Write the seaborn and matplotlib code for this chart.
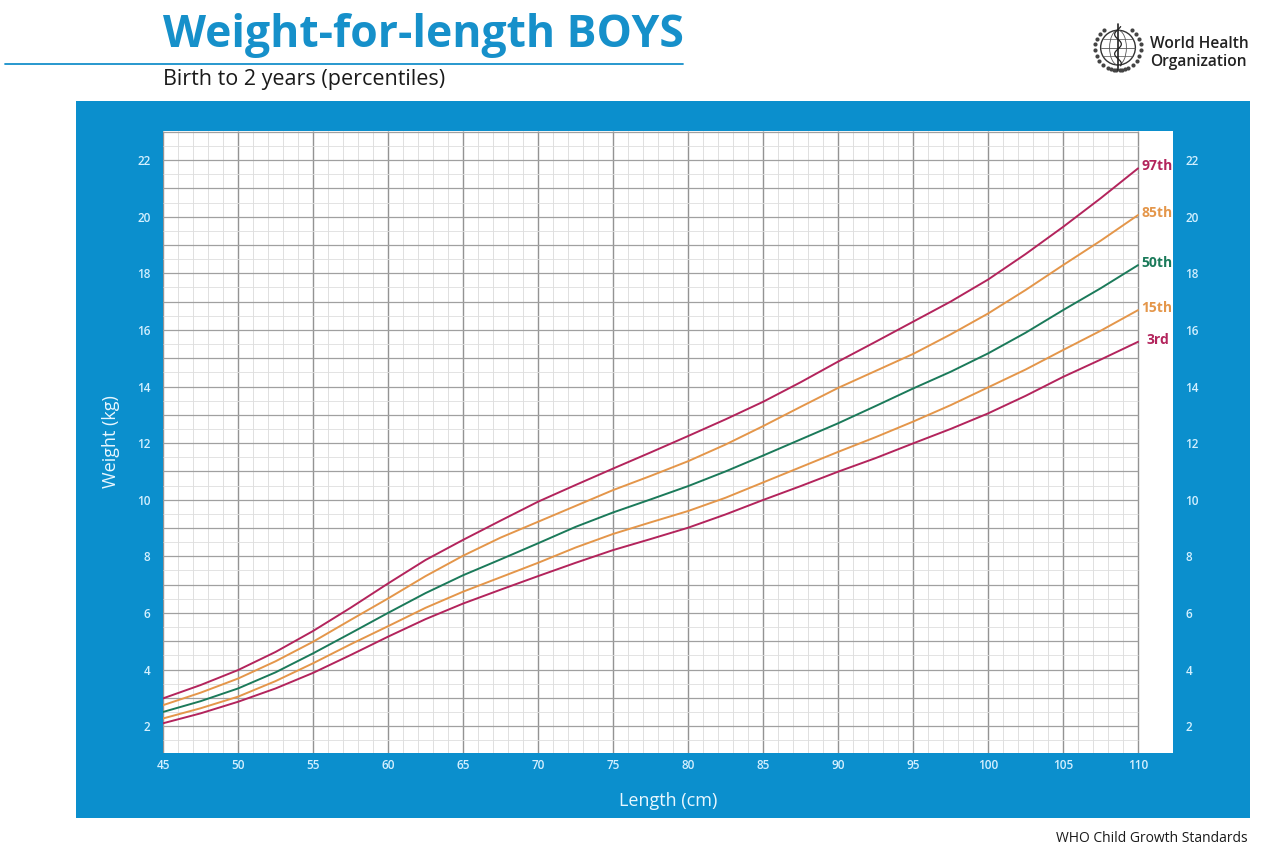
import numpy as np
import pandas as pd
import matplotlib
matplotlib.use("Agg")
import matplotlib.pyplot as plt
from matplotlib.patches import Rectangle, Circle, Ellipse
import seaborn as sns

# values
length = [45, 47.5, 50, 52.5, 55, 57.5, 60, 62.5, 65, 67.5, 70, 72.5, 75, 77.5,
          80, 82.5, 85, 87.5, 90, 92.5, 95, 97.5, 100, 102.5, 105, 107.5, 110]
p97 = [2.98, 3.45, 3.98, 4.62, 5.36, 6.18, 7.04, 7.87, 8.58, 9.26, 9.93, 10.52, 11.10, 11.67,
       12.25, 12.84, 13.46, 14.15, 14.88, 15.58, 16.29, 17.00, 17.78, 18.68, 19.64, 20.65, 21.71]
p85 = [2.74, 3.18, 3.68, 4.29, 4.98, 5.75, 6.51, 7.30, 8.02, 8.66, 9.22, 9.78, 10.34, 10.84,
       11.36, 11.95, 12.60, 13.28, 13.95, 14.55, 15.15, 15.84, 16.58, 17.41, 18.29, 19.15, 20.06]
p50 = [2.50, 2.88, 3.33, 3.90, 4.57, 5.28, 6.00, 6.70, 7.33, 7.89, 8.46, 9.04, 9.55, 10.01,
       10.48, 11.00, 11.56, 12.13, 12.70, 13.31, 13.93, 14.52, 15.17, 15.90, 16.70, 17.47, 18.29]
p15 = [2.27, 2.63, 3.04, 3.59, 4.22, 4.89, 5.53, 6.18, 6.75, 7.26, 7.77, 8.31, 8.79, 9.20,
       9.60, 10.07, 10.61, 11.15, 11.69, 12.21, 12.76, 13.34, 13.97, 14.60, 15.29, 15.97, 16.70]
p3 = [2.10, 2.45, 2.86, 3.33, 3.88, 4.51, 5.16, 5.78, 6.33, 6.82, 7.30, 7.77, 8.22, 8.61,
      9.01, 9.48, 9.99, 10.48, 10.99, 11.47, 11.99, 12.50, 13.05, 13.67, 14.34, 14.95, 15.58]

curve_names = ["97th", "85th", "50th", "15th", "3rd"]
x_ticks = list(range(45, 111, 5))
y_ticks = list(range(2, 23, 2))

RED = "#b3245c"
ORANGE = "#e4964a"
GREEN = "#1b7a5a"
BLUE = "#0b8fcd"
TICKCOL = "#d4f0ff"

colors = {"97th": RED, "85th": ORANGE, "50th": GREEN, "15th": ORANGE, "3rd": RED}

df = pd.DataFrame({"length": length * 5,
                   "weight": p97 + p85 + p50 + p15 + p3,
                   "pct": sum([[n] * len(length) for n in curve_names], [])})

sns.set_style("white")
plt.rcParams["font.family"] = ["Open Sans", "DejaVu Sans"]

fig = plt.figure(figsize=(12.61, 8.5), dpi=100)
W, H = 1261, 850

# blue panel behind the chart
fig.patches.append(Rectangle((76 / W, 1 - 818 / H), (1250 - 76) / W, (818 - 101) / H,
                             transform=fig.transFigure, facecolor=BLUE, edgecolor="none", zorder=0))

ax = fig.add_axes([163 / W, 1 - 753 / H, (1173 - 163) / W, (753 - 131) / H])
ax.set_facecolor("white")
ax.set_zorder(1)
ax.set_xlim(45, 112.33)
ax.set_ylim(1.05, 23.03)
y0, y1 = ax.get_ylim()

# graph-paper grid, only up to 110 cm
for v in np.arange(45, 110.01, 1):
    major = v % 5 == 0
    ax.vlines(v, y0, y1, color="#939393" if major else "#dadada",
              lw=1.0 if major else 0.6, zorder=1)
for h in np.arange(1.5, 23.01, 0.5):
    major = h % 1 == 0
    ax.hlines(h, 45, 110, color="#a0a0a0" if major else "#dedede",
              lw=0.9 if major else 0.6, zorder=1)

sns.lineplot(data=df, x="length", y="weight", hue="pct", palette=colors,
             hue_order=curve_names, lw=1.4, legend=False, ax=ax, zorder=3)

ends = {"97th": p97[-1], "85th": p85[-1], "50th": p50[-1], "15th": p15[-1], "3rd": p3[-1]}
for name in curve_names:
    xoff = 110.55 if name == "3rd" else 110.2
    ax.text(xoff, ends[name] + 0.08, name, color=colors[name], fontsize=10,
            fontweight="bold", ha="left", va="center", zorder=4)

for s in ax.spines.values():
    s.set_visible(False)
ax.set_xticks(x_ticks)
ax.set_yticks(y_ticks)
ax.tick_params(axis="both", length=0, labelsize=8.5, labelcolor=TICKCOL)
ax.tick_params(axis="y", pad=9, labelright=True)
ax.tick_params(axis="x", pad=4)
for lab in ax.get_yticklabels(which="both"):
    lab.set_fontweight("semibold")
for lab in ax.get_xticklabels():
    lab.set_fontweight("semibold")
ax.set_xlabel("Length (cm)", color="#e8f7ff", fontsize=13, labelpad=15)
ax.set_ylabel("Weight (kg)", color="#e8f7ff", fontsize=13, labelpad=12)

# header
fig.text(163 / W, 1 - 36 / H, "Weight-for-length BOYS", color="#1690ca",
         fontsize=32, fontweight="bold", ha="left", va="center")
fig.add_artist(plt.Line2D([5 / W, 683 / W], [1 - 64 / H, 1 - 64 / H],
                          transform=fig.transFigure, color="#1690ca", lw=1.3))
fig.text(163 / W, 1 - 80 / H, "Birth to 2 years (percentiles)", color="#1a1a1a",
         fontsize=15.5, ha="left", va="center")

# WHO emblem (simplified globe with laurel)
lax = fig.add_axes([1090 / W, 1 - 77 / H, 56 / W, 56 / H])
lax.set_xlim(-1, 1)
lax.set_ylim(-1, 1)
lax.set_aspect("equal")
lax.axis("off")
lax.add_patch(Circle((0, 0.05), 0.62, fill=False, ec="#333333", lw=1.0))
lax.add_patch(Ellipse((0, 0.05), 0.6, 1.24, fill=False, ec="#555555", lw=0.6))
lax.plot([-0.62, 0.62], [0.05, 0.05], color="#555555", lw=0.6)
lax.plot([-0.55, 0.55], [0.35, 0.35], color="#555555", lw=0.5)
lax.plot([-0.55, 0.55], [-0.25, -0.25], color="#555555", lw=0.5)
lax.plot([0, 0], [-0.75, 0.9], color="#222222", lw=1.2)
t = np.linspace(-0.6, 0.8, 40)
lax.plot(0.12 * np.sin(t * 9), t, color="#222222", lw=0.9)
a = np.linspace(-1.9, 0.9, 12)
for sgn in (-1, 1):
    lax.scatter(sgn * 0.82 * np.cos(a), 0.82 * np.sin(a) + 0.05,
                s=9, marker="o", color="#444444", lw=0)

fig.text(1150 / W, 1 - 44 / H, "World Health", color="#222222", fontsize=11.2,
         fontweight="semibold", ha="left", va="center")
fig.text(1150 / W, 1 - 62 / H, "Organization", color="#222222", fontsize=11.2,
         fontweight="semibold", ha="left", va="center")

fig.text(1248 / W, 1 - 838 / H, "WHO Child Growth Standards", color="#1a1a1a",
         fontsize=10, ha="right", va="center")

fig.savefig("out.png", dpi=100, facecolor="white")
